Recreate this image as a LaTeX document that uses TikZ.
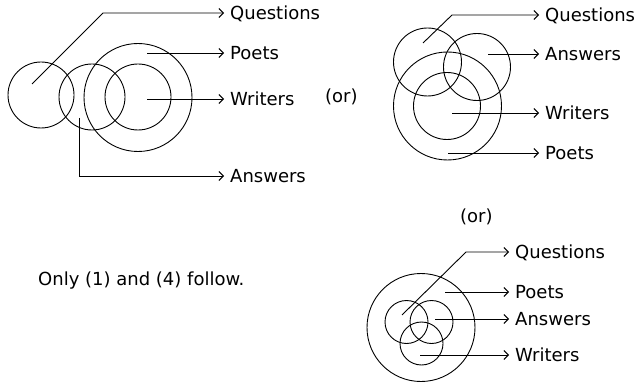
\documentclass[tikz,border=0pt]{standalone}
\usepackage{fontspec}
\setmainfont{DejaVu Sans}
\usetikzlibrary{arrows.meta}
\tikzset{
  ring/.style={draw, circle, line width=0.9pt, inner sep=0pt},
  conn/.style={line width=0.9pt, -{Straight Barb[length=4.5pt,width=9pt,line width=0.9pt]}},
  lbl/.style={anchor=west, inner xsep=6pt, inner ysep=0pt, font=\fontsize{18}{21}\selectfont, text height=13.1pt, text depth=0pt},
  plain/.style={anchor=west, inner sep=0pt, font=\fontsize{18}{21}\selectfont, text height=13.1pt, text depth=0pt}
}
\begin{document}
\begin{tikzpicture}[x=1pt,y=-1pt]
\useasboundingbox (0,0) rectangle (636,387);
% ---------- diagram 1 ----------
\node[ring, minimum size=66pt] (q1c) at (41,95) {};
\node[ring, minimum size=66pt] (a1c) at (92,97) {};
\node[ring, minimum size=108pt] (p1c) at (138,97.5) {};
\node[ring, minimum size=66pt] (w1c) at (138,97) {};
\coordinate (q1s) at (32,84);
\coordinate (q1b) at (103,13);
\coordinate (p1s) at (147,53);
\coordinate (w1s) at (147,99);
\coordinate (a1s) at (79,118);
\coordinate (a1b) at (79,176);
\node[lbl] (q1) at (224,13) {Questions};
\node[lbl] (p1) at (224,53) {Poets};
\node[lbl] (w1) at (224,99) {Writers};
\node[lbl] (a1) at (224,176) {Answers};
\draw[conn] (q1s) -- (q1b) -- (q1.west);
\draw[conn] (p1s) -- (p1.west);
\draw[conn] (w1s) -- (w1.west);
\draw[conn] (a1s) -- (a1b) -- (a1.west);
\node[plain] (or1) at (325,96) {(or)};
% ---------- diagram 2 ----------
\node[ring, minimum size=68pt] (q2c) at (427.5,62) {};
\node[ring, minimum size=67pt] (a2c) at (477,67) {};
\node[ring, minimum size=108pt] (p2c) at (447.5,106) {};
\node[ring, minimum size=67pt] (w2c) at (447,106) {};
\coordinate (q2s) at (423,43);
\coordinate (q2b) at (452,15);
\coordinate (a2s) at (488,54);
\coordinate (w2s) at (452,113);
\coordinate (p2s) at (448,153);
\node[lbl] (q2) at (539,15) {Questions};
\node[lbl] (a2) at (539,54) {Answers};
\node[lbl] (w2) at (539,113) {Writers};
\node[lbl] (p2) at (539,153) {Poets};
\draw[conn] (q2s) -- (q2b) -- (q2.west);
\draw[conn] (a2s) -- (a2.west);
\draw[conn] (w2s) -- (w2.west);
\draw[conn] (p2s) -- (p2.west);
\node[plain] (or2) at (460,216) {(or)};
% ---------- diagram 3 ----------
\node[ring, minimum size=108pt] (p3c) at (421,327.5) {};
\node[ring, minimum size=43pt] (q3c) at (406.5,322) {};
\node[ring, minimum size=43pt] (a3c) at (431.5,322) {};
\node[ring, minimum size=43pt] (w3c) at (421.5,343.5) {};
\coordinate (q3s) at (402,315);
\coordinate (q3b) at (466,252);
\coordinate (p3s) at (445,292);
\coordinate (a3s) at (435,319);
\coordinate (w3s) at (420,355);
\node[lbl] (q3) at (509,252) {Questions};
\node[lbl] (p3) at (509,292) {Poets};
\node[lbl] (a3) at (509,319) {Answers};
\node[lbl] (w3) at (509,355) {Writers};
\draw[conn] (q3s) -- (q3b) -- (q3.west);
\draw[conn] (p3s) -- (p3.west);
\draw[conn] (a3s) -- (a3.west);
\draw[conn] (w3s) -- (w3.west);
% ---------- statement ----------
\node[plain] (note) at (38,279) {Only (1) and (4) follow.};
\end{tikzpicture}
\end{document}
